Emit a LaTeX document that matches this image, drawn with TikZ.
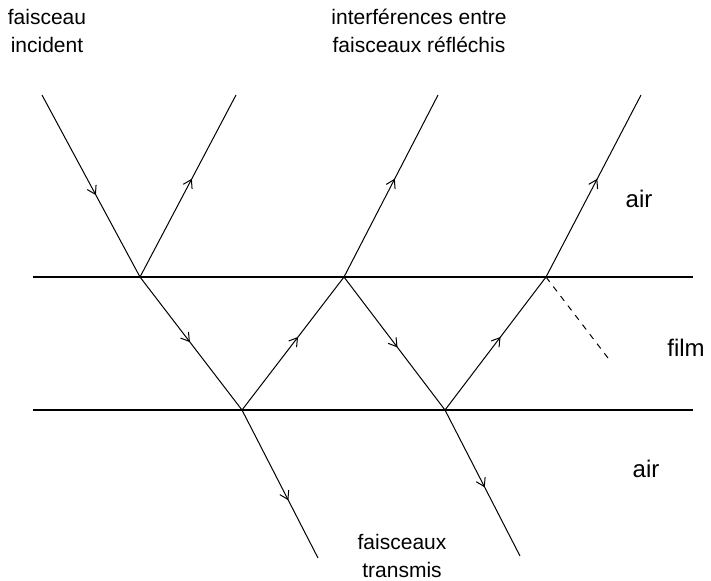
\documentclass[tikz,border=0pt]{standalone}
\usepackage{fontspec}
\setmainfont{Liberation Sans}
\usetikzlibrary{arrows.meta,decorations.markings}

\begin{document}
\begin{tikzpicture}[%
    x=0.5pt, y=-0.5pt,
    text=black,
    line width=0.5pt,
    interface/.style={line width=1.4pt},
    ray/.style={decoration={markings,
        mark=at position #1 with {\arrow{Straight Barb[length=4pt,width=5pt]}}},
      postaction={decorate}},
    small/.style={align=center, font=\fontsize{10.5}{14}\selectfont},
    big/.style={font=\fontsize{12}{14}\selectfont}]

  \useasboundingbox (0,0) rectangle (711,580);

  % interfaces
  \coordinate (T1) at (33,277);
  \coordinate (T2) at (693,277);
  \coordinate (B1) at (33,410);
  \coordinate (B2) at (693,410);
  \draw[interface] (T1) -- (T2);
  \draw[interface] (B1) -- (B2);

  % points on the interfaces
  \coordinate (P1) at (140,277);
  \coordinate (P2) at (344,277);
  \coordinate (P3) at (546,277);
  \coordinate (Q1) at (242,410);
  \coordinate (Q2) at (445,410);

  % free ends
  \coordinate (IN) at (42,95);
  \coordinate (R1) at (236,95);
  \coordinate (R2) at (438,95);
  \coordinate (R3) at (641,95);
  \coordinate (S1) at (318,558);
  \coordinate (S2) at (520,556);
  \coordinate (D1) at (608,358);

  % --- rays ---------------------------
  \draw[ray=0.55] (IN) -- (P1);
  \draw[ray=0.54] (P1) -- (R1);
  \draw[ray=0.49] (P1) -- (Q1);
  \draw[ray=0.55] (Q1) -- (P2);
  \draw[ray=0.54] (P2) -- (R2);
  \draw[ray=0.53] (P2) -- (Q2);
  \draw[ray=0.55] (Q2) -- (P3);
  \draw[ray=0.54] (P3) -- (R3);
  \draw[ray=0.61] (Q1) -- (S1);
  \draw[ray=0.53] (Q2) -- (S2);
  \draw[dashed] (P3) -- (D1);

  % --- labels -------------------------
  \node (inc) [small] at (47,31) {faisceau\\incident};
  \node (refl) [small] at (419,31) {interférences entre\\faisceaux réfléchis};
  \node (trans) [small] at (402,556) {faisceaux\\transmis};
  \node (air1) [big] at (639,199) {air};
  \node (film) [big] at (686,348) {film};
  \node (air2) [big] at (646,469) {air};
\end{tikzpicture}
\end{document}
